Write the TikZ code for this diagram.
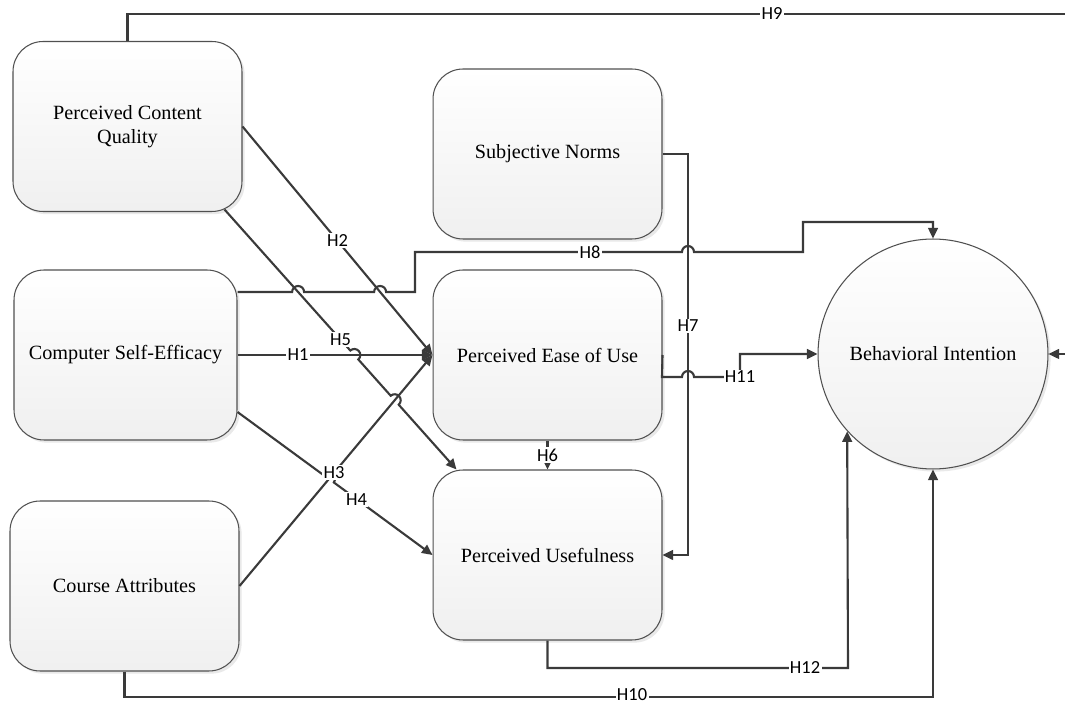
\documentclass[tikz,border=0pt]{standalone}
\usepackage{fontspec}
\setmainfont{Liberation Serif}
\newfontfamily\labelfont{Carlito}
\usetikzlibrary{arrows.meta,calc,intersections,shadows}
\definecolor{linegray}{HTML}{3A3A3A}
\definecolor{boxedge}{HTML}{505050}

\begin{document}
\begin{tikzpicture}[x=0.02cm,y=0.02cm,
  construct/.style={draw=boxedge, line width=0.6pt, rounded corners=0.6cm,
    minimum width=4.58cm, minimum height=3.4cm, align=center,
    top color=white, bottom color=black!6,
    drop shadow={shadow xshift=1.5pt, shadow yshift=-1.5pt, fill=black!25, opacity=0.35},
    font=\fontsize{11.5}{13.5}\selectfont},
  outcome/.style={circle, draw=boxedge, line width=0.6pt, minimum size=4.6cm,
    top color=white, bottom color=black!6,
    drop shadow={shadow xshift=1.5pt, shadow yshift=-1.5pt, fill=black!25, opacity=0.35},
    font=\fontsize{11.5}{13.5}\selectfont},
  link/.style={draw=linegray, line width=1.2pt, -{Triangle[length=6pt,width=5.5pt]}},
  hyp/.style={fill=white, inner sep=0.8pt, text=black,
    font=\labelfont\fontsize{10.5}{11}\selectfont}]
\useasboundingbox (0,0) rectangle (1065,700);

\node[construct] (pcq)  at (127.5,573.5) {Perceived Content\\Quality};
\node[construct, minimum width=4.46cm] (cse) at (125.5,345) {Computer Self-Efficacy};
\node[construct] (ca)   at (124.5,114) {Course Attributes};
\node[construct] (sn)   at (547.5,546) {Subjective Norms};
\node[construct] (peou) at (547.5,345) {Perceived Ease of Use};
\node[construct] (pu)   at (547.5,145) {Perceived Usefulness};
\node[outcome]   (bi)   at (933,346)   {Behavioral Intention};

% free ends
\coordinate (h5s) at ($(pcq.south east)+(-18,2.5)$);
\coordinate (h5e) at ($(pu.north west)+(24,0)$);
\coordinate (h8s) at ($(cse.east)+(0,63)$);
\coordinate (h4s) at ($(cse.east)+(0,-57)$);

% crossings
\path[name path=p5] (h5s) -- (h5e);
\path[name path=p1] (cse.east) -- (peou.west);
\path[name path=p2] (pcq.east) -- (peou.west);
\path[name path=p3] (ca.east) -- (peou.west);
\path[name path=p4] (h4s) -- (pu.west);
\path[name path=p8] (h8s) -- ++(200,0);
\path[name intersections={of=p5 and p1, by=x51}];
\path[name intersections={of=p5 and p3, by=x53}];
\path[name intersections={of=p4 and p3, by=x43}];
\path[name intersections={of=p8 and p5, by=x85}];
\path[name intersections={of=p8 and p2, by=x82}];

\draw[link] (pcq.east) -- (peou.west);
\draw[link] (cse.east) -- (peou.west);
\draw[link] (ca.east) -- (peou.west);
\draw[link] (h5s) -- ($(x51)!0.12cm!(h5s)$) arc[start angle=131.8, end angle=-48.2, radius=0.12cm]
  -- ($(x53)!0.12cm!(h5s)$) arc[start angle=131.8, end angle=-48.2, radius=0.12cm] -- (h5e);
\draw[link] (h4s) -- ($(x43)!0.12cm!(h4s)$) arc[start angle=144.5, end angle=-35.5, radius=0.12cm] -- (pu.west);
\draw[link] (peou.south) -- (pu.north);
\draw[link] (sn.east) -- (688,546) -- (688,145) -- (pu.east);
\draw[link] (h8s) -- ($(x85)+(-6,0)$) arc[start angle=180, end angle=0, radius=0.12cm]
  -- ($(x82)+(-6,0)$) arc[start angle=180, end angle=0, radius=0.12cm]
  -- (415,408) -- (415,448) -- (682,448) arc[start angle=180, end angle=0, radius=0.12cm]
  -- (803,448) -- (803,478) -- (933,478) -- (bi.north);
\draw[link] (pcq.north) -- (127.5,686) -- (1085,686) -- (1085,346) -- (bi.east);
\draw[link] (ca.south) -- (124.5,3) -- (933,3) -- (bi.south);
\draw[link] (peou.east) -- (662,323) -- (682,323) arc[start angle=180, end angle=0, radius=0.12cm]
  -- (740,323) -- (740,346) -- (bi.west);
\draw[link] (pu.south) -- (547.5,32) -- (848,32) -- (bi.222.4);

% labels
\path (cse.east) -- (peou.west) node[hyp, pos=0.31] (l1) {H1};
\path (pcq.east) -- (peou.west) node[hyp, pos=0.5] (l2) {H2};
\path (ca.east) -- (peou.west) node[hyp, pos=0.49] (l3) {H3};
\path (h4s) -- (pu.west) node[hyp, pos=0.61] (l4) {H4};
\path (h5s) -- (h5e) node[hyp, pos=0.5] (l5) {H5};
\path (peou.south) -- (pu.north) node[hyp, midway] (l6) {H6};
\node[hyp] (l7)  at (688,374) {H7};
\node[hyp] (l8)  at (590,448) {H8};
\node[hyp] (l9)  at (772,686) {H9};
\node[hyp] (l10) at (632,5)   {H10};
\node[hyp] (l11) at (740,323) {H11};
\node[hyp] (l12) at (805,32)  {H12};
\end{tikzpicture}
\end{document}
